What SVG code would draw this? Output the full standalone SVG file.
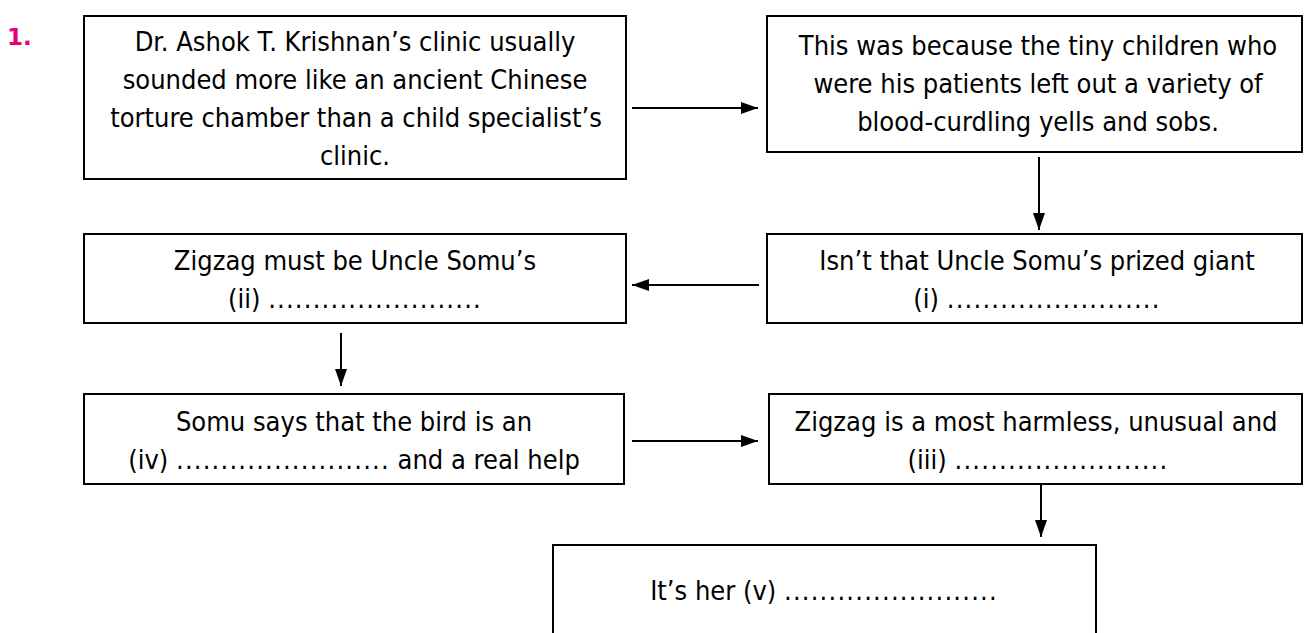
<svg xmlns="http://www.w3.org/2000/svg" width="1309" height="633" viewBox="0 0 1309 633">
<style>
.box{fill:#fff;stroke:#000;stroke-width:2}
.t{font-family:'DejaVu Sans Condensed','DejaVu Sans',sans-serif;font-stretch:condensed;font-size:27px;fill:#000;text-anchor:middle}
.d{letter-spacing:1.2px}
.c{stroke:#000;stroke-width:2;fill:none;marker-end:url(#ah)}
.num{font-family:'DejaVu Sans','Liberation Sans',sans-serif;font-weight:bold;font-size:23px;fill:#E6007E}
</style>
<defs>
<marker id="ah" markerUnits="userSpaceOnUse" markerWidth="17" markerHeight="12" refX="17" refY="6" orient="auto">
<path d="M0,0 L17,6 L0,12 z" fill="#000"/>
</marker>
</defs>
<rect width="1309" height="633" fill="#fff"/>
<text class="num" x="7" y="45">1.</text>
<g id="n1">
<rect class="box" x="84" y="16" width="542" height="163"/>
<text class="t" x="355" y="51">Dr. Ashok T. Krishnan’s clinic usually</text>
<text class="t" x="355" y="89">sounded more like an ancient Chinese</text>
<text class="t" x="356" y="127">torture chamber than a child specialist’s</text>
<text class="t" x="355" y="165">clinic.</text>
</g>
<g id="n2">
<rect class="box" x="767" y="16" width="535" height="136"/>
<text class="t" x="1038" y="55">This was because the tiny children who</text>
<text class="t" x="1038" y="93">were his patients left out a variety of</text>
<text class="t" x="1038" y="131">blood-curdling yells and sobs.</text>
</g>
<g id="n3">
<rect class="box" x="767" y="234" width="535" height="89"/>
<text class="t" x="1037" y="270">Isn’t that Uncle Somu’s prized giant</text>
<text class="t" x="1037" y="308">(i) <tspan class="d">........................</tspan></text>
</g>
<g id="n4">
<rect class="box" x="84" y="234" width="542" height="89"/>
<text class="t" x="355" y="270">Zigzag must be Uncle Somu’s</text>
<text class="t" x="355" y="308">(ii) <tspan class="d">........................</tspan></text>
</g>
<g id="n5">
<rect class="box" x="84" y="394" width="540" height="90"/>
<text class="t" x="354" y="431">Somu says that the bird is an</text>
<text class="t" x="354" y="469">(iv) <tspan class="d">........................</tspan> and a real help</text>
</g>
<g id="n6">
<rect class="box" x="769" y="394" width="533" height="90"/>
<text class="t" x="1036" y="431">Zigzag is a most harmless, unusual and</text>
<text class="t" x="1038" y="469">(iii) <tspan class="d">........................</tspan></text>
</g>
<g id="n7">
<rect class="box" x="553" y="545" width="543" height="100"/>
<text class="t" x="824" y="600">It’s her (v) <tspan class="d">........................</tspan></text>
</g>
<g id="connectors">
<line class="c" x1="632" y1="108" x2="758" y2="108"/>
<line class="c" x1="1039" y1="157" x2="1039" y2="230"/>
<line class="c" x1="759" y1="285" x2="632" y2="285"/>
<line class="c" x1="341" y1="333" x2="341" y2="386"/>
<line class="c" x1="632" y1="441" x2="758" y2="441"/>
<line class="c" x1="1041" y1="484" x2="1041" y2="537"/>
</g>
</svg>
